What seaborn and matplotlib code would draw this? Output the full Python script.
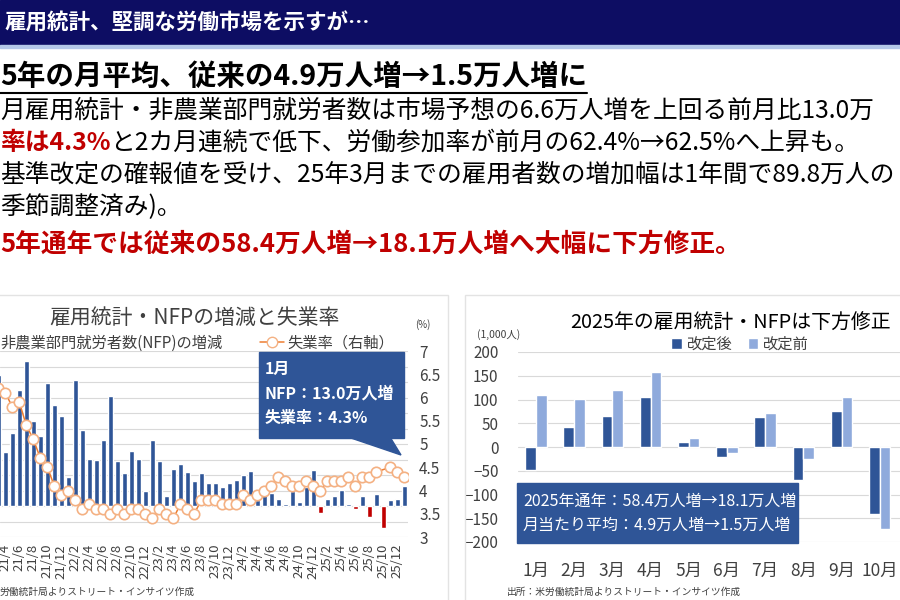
import numpy as np
import pandas as pd
import seaborn as sns
import matplotlib.pyplot as plt
from matplotlib.patches import Rectangle, Polygon
from matplotlib.lines import Line2D

# 左グラフ: 2021/3 〜 2026/1 の月次データ
month_labels = ([f'21/{m}' for m in range(3, 13)] + [f'22/{m}' for m in range(1, 13)]
                + [f'23/{m}' for m in range(1, 13)] + [f'24/{m}' for m in range(1, 13)]
                + [f'25/{m}' for m in range(1, 13)] + ['26/1'])

# NFP 前月比増減(千人)
nfp_2021_2024 = [843, 348, 473, 750, 935, 546, 452, 794, 649, 578,
                 187, 811, 488, 305, 299, 428, 708, 288, 213, 353, 301, 97,
                 428, 288, 62, 237, 273, 219, 159, 213, 151, 151, 123, 148,
                 170, 198, 224, 37, 75, 84, 47, 10, 97, 26, 123, 230]
nfp_recent = [41, 47, 130]  # 25/11, 25/12, 26/1

# 失業率(%) 25/10 は未公表
unemp_rate = [6.2, 6.1, 5.8, 5.9, 5.4, 5.1, 4.7, 4.5, 4.1, 3.9,
              4.0, 3.8, 3.6, 3.7, 3.6, 3.6, 3.5, 3.6, 3.5, 3.6, 3.6, 3.5,
              3.4, 3.6, 3.5, 3.4, 3.7, 3.6, 3.5, 3.8, 3.8, 3.8, 3.7, 3.7,
              3.7, 3.9, 3.8, 3.9, 4.0, 4.1, 4.3, 4.2, 4.1, 4.1, 4.2, 4.1,
              4.0, 4.2, 4.2, 4.2, 4.3, 4.1, 4.3, 4.3, 4.4, np.nan, 4.5, 4.4,
              4.3]

# 右グラフ: 2025年 改定後/改定前(千人)
months_2025 = ['1月', '2月', '3月', '4月', '5月', '6月', '7月', '8月', '9月', '10月']
nfp_revised = [-48, 42, 66, 106, 11, -20, 63, -70, 75, -140]
nfp_prelim = [110, 101, 119, 157, 18, -13, 71, -26, 106, -173]

nfp = nfp_2021_2024 + nfp_revised + nfp_recent

NAVY = '#0D0D63'
BLUE = '#2F5597'
LIGHT = '#8FAADC'
RED = '#C00000'
ORANGE = '#ED7D31'
GRID = '#D9D9D9'
TXT = '#404040'

sns.set_theme(style='white')
plt.rcParams['font.family'] = ['Noto Sans CJK JP', 'DejaVu Sans']

W, H = 900, 600
fig = plt.figure(figsize=(9, 6), dpi=100)


def fx(px):
    return px / W


def fy(py):
    return 1 - py / H


def frect(x0, y0, x1, y1, **kw):
    r = Rectangle((fx(x0), fy(y1)), fx(x1 - x0), (y1 - y0) / H,
                  transform=fig.transFigure, **kw)
    fig.patches.append(r)
    return r


# ヘッダー
frect(0, 0, 900, 45, color=NAVY, zorder=1)
frect(0, 45, 900, 48, color='#B4C7E7', zorder=1)
fig.text(fx(4), fy(23), '雇用統計、堅調な労働市場を示すが…', color='white',
         fontsize=15.5, fontweight='bold', va='center', ha='left')

# 小見出しと本文
sub = fig.text(0, fy(77), '5年の月平均、従来の4.9万人増→1.5万人増に', color='black',
               fontsize=20.5, fontweight='bold', va='center', ha='left')
body_fs = 17.8
fig.text(0, fy(111), '月雇用統計・非農業部門就労者数は市場予想の6.6万人増を上回る前月比13.0万',
         fontsize=body_fs, va='center', ha='left', color='black')
red2 = fig.text(0, fy(143), '率は4.3%', fontsize=body_fs, fontweight='bold', color=RED,
                va='center', ha='left')
fig.text(0, fy(175), '基準改定の確報値を受け、25年3月までの雇用者数の増加幅は1年間で89.8万人の',
         fontsize=body_fs, va='center', ha='left', color='black')
fig.text(0, fy(207), '季節調整済み)。', fontsize=body_fs, va='center', ha='left', color='black')
fig.text(0, fy(244), '5年通年では従来の58.4万人増→18.1万人増へ大幅に下方修正。', fontsize=18.5,
         fontweight='bold', color=RED, va='center', ha='left')

fig.canvas.draw()
rend = fig.canvas.get_renderer()
bb = sub.get_window_extent(rend)
fig.add_artist(Line2D([0, bb.x1 / W], [fy(93), fy(93)], color='black', lw=1.5,
                      transform=fig.transFigure))
bb2 = red2.get_window_extent(rend)
fig.text(bb2.x1 / W, fy(143), 'と2カ月連続で低下、労働参加率が前月の62.4%→62.5%へ上昇も。',
         fontsize=body_fs, va='center', ha='left', color='black')

# パネル枠
frect(-2, 295, 448, 603, fill=False, edgecolor='#E3E3E3', lw=1, zorder=0.5)
frect(465, 295, 905, 603, fill=False, edgecolor='#E3E3E3', lw=1, zorder=0.5)

# ---- 左グラフ ----
n = len(nfp)
idx = np.arange(n)
sign = ['増' if v >= 0 else '減' for v in nfp]
ax = fig.add_axes([0, fy(537), fx(408), (537 - 351) / H])
sns.barplot(x=idx, y=nfp, hue=sign, palette={'増': BLUE, '減': RED}, dodge=False,
            width=0.68, saturation=1, legend=False, ax=ax)
ax.set_ylim(-200, 1000)
ax.set_yticks(range(-200, 1001, 100))
ax.grid(axis='y', color=GRID, lw=0.8)
ax.grid(axis='x', visible=False)
ax.set_axisbelow(True)
ax.tick_params(axis='y', length=0, labelleft=False)
ax.set_xticks(idx[1::2])
ax.set_xticklabels(month_labels[1::2], rotation=90, fontsize=9.5, color=TXT)
ax.tick_params(axis='x', length=0, pad=5)
ax.set_xlim(0.24, 58.53)
for s in ax.spines.values():
    s.set_visible(False)

ax2 = ax.twinx()
rate = np.array(unemp_rate)
ok = ~np.isnan(rate)
sns.lineplot(x=idx[ok], y=rate[ok], ax=ax2, color=ORANGE, lw=1.1, marker='o',
             markersize=7.5, markerfacecolor='white', markeredgecolor='#F4B183',
             markeredgewidth=1.2)
ax2.set_ylim(3, 7)
ticks = np.arange(3, 7.01, 0.5)
ax2.set_yticks(ticks)
ax2.set_yticklabels([f'{t:g}' for t in ticks], fontsize=11, color=TXT)
ax2.tick_params(axis='y', length=0, pad=8)
ax2.grid(False)
ax2.set_xlim(0.24, 58.53)
for s in ax2.spines.values():
    s.set_visible(False)

fig.text(fx(194), fy(318), '雇用統計・NFPの増減と失業率', fontsize=15, ha='center',
         va='center', color=TXT)
fig.text(0, fy(343), '非農業部門就労者数(NFP)の増減', fontsize=11, ha='left', va='center',
         color=TXT)
rate_handle = Line2D([], [], color=ORANGE, lw=1.1, marker='o', markersize=7.5,
                     markerfacecolor='white', markeredgecolor='#F4B183')
fig.legend(handles=[rate_handle], labels=['失業率（右軸）'], loc='center left',
           bbox_to_anchor=(fx(252), fy(343)), frameon=False, fontsize=11,
           handlelength=1.6, handletextpad=0.2, labelcolor=TXT, borderpad=0)
fig.text(fx(415), fy(325), '(%)', fontsize=7, ha='left', va='center', color=TXT)

# 吹き出し
frect(259, 352, 404, 438, color=BLUE, zorder=2)
tail = Polygon([(fx(348), fy(437)), (fx(390), fy(437)), (fx(401), fy(455))],
               closed=True, color=BLUE, transform=fig.transFigure, zorder=2)
fig.patches.append(tail)
for yy, s in [(369, '1月'), (394, 'NFP：13.0万人増'), (418, '失業率：4.3%')]:
    fig.text(fx(265), fy(yy), s, color='white', fontsize=11.5, fontweight='bold',
             ha='left', va='center', zorder=3)
fig.text(0, fy(592), '労働統計局よりストリート・インサイツ作成', fontsize=7, ha='left',
         va='center', color=TXT)

# ---- 右グラフ ----
df = pd.DataFrame({
    '月': months_2025 * 2,
    '値': nfp_revised + nfp_prelim,
    '系列': ['改定後'] * len(months_2025) + ['改定前'] * len(months_2025),
})
ax3 = fig.add_axes([fx(518), fy(542), fx(900 - 518), (542 - 352) / H])
sns.barplot(data=df, x='月', y='値', hue='系列',
            palette={'改定後': BLUE, '改定前': LIGHT}, width=0.56, saturation=1, ax=ax3)
ax3.set_ylim(-200, 200)
ax3.set_yticks(range(-200, 201, 50))
ax3.set_xlim(-0.47, 9.53)
ax3.grid(axis='y', color=GRID, lw=0.8)
ax3.grid(axis='x', visible=False)
ax3.set_axisbelow(True)
ax3.set_xlabel('')
ax3.set_ylabel('')
ax3.tick_params(axis='y', length=0, pad=14, labelsize=11, labelcolor=TXT)
ax3.tick_params(axis='x', length=0, pad=14, labelsize=12.5, labelcolor=TXT)
for s in ax3.spines.values():
    s.set_visible(False)
ax3.legend(loc='center', bbox_to_anchor=(fx(740), fy(344)), bbox_transform=fig.transFigure,
           ncol=2, frameon=False, fontsize=11, handlelength=0.7, handleheight=0.7,
           columnspacing=1.0, handletextpad=0.3, labelcolor=TXT, borderpad=0)

fig.text(fx(570), fy(322), '2025年の雇用統計・NFPは下方修正', fontsize=14.3, ha='left',
         va='center', color='black')
fig.text(fx(477), fy(335), '(1,000人)', fontsize=7.5, ha='left', va='center', color=TXT)

frect(517, 483, 798, 543, color=BLUE, zorder=2)
fig.text(fx(523), fy(501), '2025年通年：58.4万人増→18.1万人増', color='white', fontsize=11.5,
         ha='left', va='center', zorder=3)
fig.text(fx(523), fy(525), '月当たり平均：4.9万人増→1.5万人増', color='white', fontsize=11.5,
         ha='left', va='center', zorder=3)
fig.text(fx(507), fy(592), '出所：米労働統計局よりストリート・インサイツ作成', fontsize=7,
         ha='left', va='center', color=TXT)

fig.savefig('out.png', dpi=100, facecolor='white')
